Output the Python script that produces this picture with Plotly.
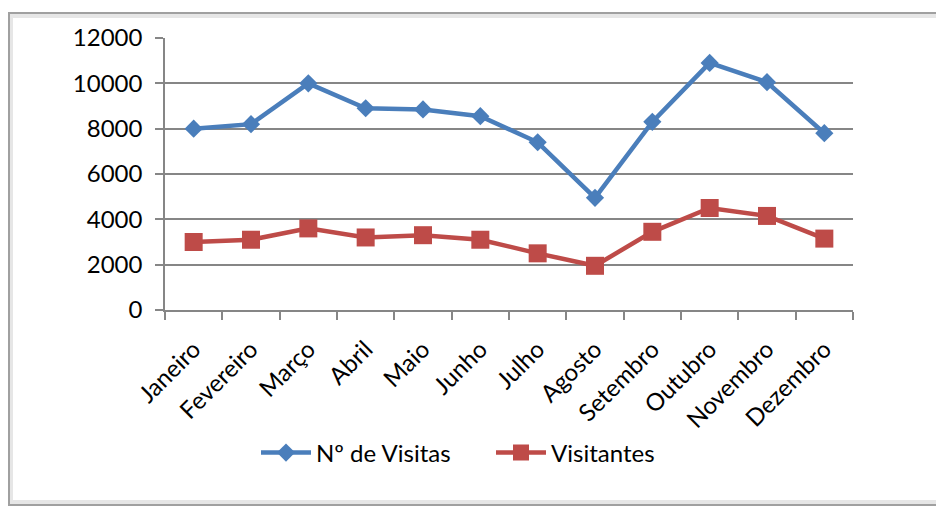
import plotly.graph_objects as go

months = ["Janeiro", "Fevereiro", "Março", "Abril", "Maio", "Junho",
          "Julho", "Agosto", "Setembro", "Outubro", "Novembro", "Dezembro"]
visitas = [8000, 8200, 10000, 8900, 8850, 8550, 7400, 4950, 8300, 10900, 10050, 7800]
visitantes = [3000, 3100, 3600, 3200, 3300, 3100, 2500, 1950, 3450, 4500, 4150, 3150]
y_ticks = [0, 2000, 4000, 6000, 8000, 10000, 12000]

FONT = "Lato, 'Open Sans', sans-serif"
BLUE = "#4A7EBB"
RED = "#BE4B48"

fig = go.Figure()
fig.add_trace(go.Scatter(
    x=months, y=visitas, name="Nº de Visitas", mode="lines+markers",
    line=dict(color=BLUE, width=4.5),
    marker=dict(symbol="diamond", size=14, color=BLUE),
))
fig.add_trace(go.Scatter(
    x=months, y=visitantes, name="Visitantes", mode="lines+markers",
    line=dict(color=RED, width=4.5),
    marker=dict(symbol="square", size=18, color=RED),
))

# page has an 8px body margin; figure coords = page coords - 8
W, H = 936, 500
L, R, T, B = 157, 91, 30, 198
PW = W - L - R
PH = H - T - B


def px_x(p):  # page x -> paper
    return (p - 8 - L) / PW


def px_y(p):  # page y -> paper
    return (H - B - (p - 8)) / PH


fig.add_shape(type="rect", xref="paper", yref="paper",
              x0=px_x(11), x1=px_x(938), y0=px_y(502), y1=px_y(16),
              line=dict(color="#e6e6e6", width=4), layer="below")
fig.add_shape(type="rect", xref="paper", yref="paper",
              x0=px_x(9), x1=px_x(941), y0=px_y(505), y1=px_y(13),
              line=dict(color="#a0a0a0", width=2), layer="below")

fig.update_layout(
    width=W, height=H,
    margin=dict(l=L, r=R, t=T, b=B),
    paper_bgcolor="white", plot_bgcolor="white",
    font=dict(family=FONT, size=24, color="black"),
    showlegend=True,
    legend=dict(orientation="h", x=px_x(256), xanchor="left",
                y=px_y(453), yanchor="middle",
                font=dict(family=FONT, size=24, color="black"),
                itemwidth=50, entrywidth=170, tracegroupgap=0,
                bgcolor="rgba(0,0,0,0)"),
    xaxis=dict(
        type="category", range=[-0.5, 11.5],
        showline=True, linecolor="#868686", linewidth=1.5,
        ticks="outside", tickson="boundaries", ticklen=8,
        tickcolor="#868686", tickwidth=1.5,
        tickangle=-45, showgrid=False, ticklabelstandoff=14,
        tickfont=dict(family=FONT, size=24, color="black"),
    ),
    yaxis=dict(
        range=[0, 12000], tickvals=y_ticks,
        ticktext=[str(v) for v in y_ticks],
        showline=True, linecolor="#868686", linewidth=1.5,
        ticks="outside", ticklen=8, tickcolor="#868686", tickwidth=1.5,
        showgrid=True, gridcolor="#868686", gridwidth=1.5,
        zeroline=False, ticklabelstandoff=8,
        tickfont=dict(family=FONT, size=24, color="black"),
    ),
)

fig.write_html("out.html")
